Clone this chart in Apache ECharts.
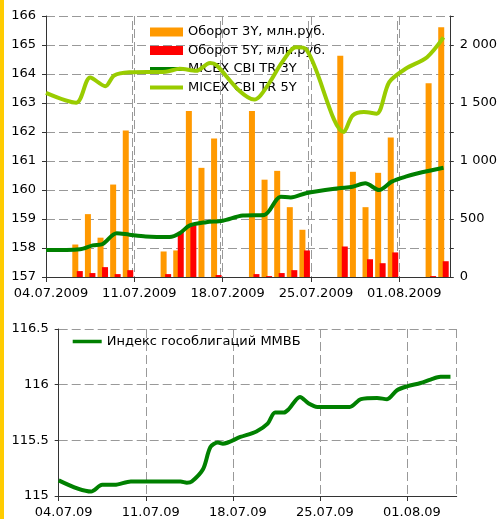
<!DOCTYPE html>
<html>
<head>
<meta charset="utf-8">
<script src="https://cdn.jsdelivr.net/npm/echarts@6/dist/echarts.min.js"></script>
<style>
  html, body { margin: 0; padding: 0; background: #fff; }
  #chart { width: 500px; height: 519px; }
</style>
</head>
<body>
<div id="chart"></div>
<script>
// days are counted from 04.07.2009
const tradeDays = [2, 3, 4, 5, 6, 9, 10, 11, 12, 13, 16, 17, 18, 19, 20, 23, 24, 25, 26, 27, 30, 31];
const turnover3Y = [280, 542, 339, 797, 1263, 220, 229, 1432, 941, 1195, 1432, 839, 915, 602, 407, 1907, 907, 602, 898, 1203, 1670, 2153];
const turnover5Y = [51, 34, 85, 25, 59, 25, 390, 449, 0, 17, 25, 8, 34, 59, 229, 263, 0, 153, 119, 212, 8, 136];

const cbi3Days = [0, 2.7, 3.7, 4.5, 5.6, 6.6, 7.9, 9.8, 10.6, 11.4, 12.7, 14, 15.6, 17.3, 18.6, 19.4, 20.6, 23.2, 24.3, 25.3, 26.4, 27.4, 28.5, 29.8, 31.5];
const cbi3 = [157.93, 157.96, 158.09, 158.14, 158.51, 158.46, 158.40, 158.38, 158.51, 158.78, 158.89, 158.94, 159.12, 159.14, 159.77, 159.74, 159.89, 160.06, 160.11, 160.23, 160.0, 160.29, 160.46, 160.61, 160.77];

const cbi5Days = [0, 2.4, 3.5, 4.7, 5.4, 6.6, 9.5, 10.6, 11.9, 13, 13.5, 15.3, 16.5, 17, 17.9, 18.7, 19.8, 20.6, 23.6, 24.3, 25.2, 26.2, 27.2, 28.5, 30.2, 31.5];
const cbi5 = [163.35, 163.01, 163.88, 163.58, 163.95, 164.06, 164.08, 164.18, 164.11, 164.38, 164.31, 163.43, 163.12, 163.26, 163.83, 164.4, 164.92, 164.86, 162.0, 162.57, 162.69, 162.63, 163.72, 164.18, 164.58, 165.26];

const mmvbDays = [0, 2.6, 3.5, 4.5, 5.8, 9.8, 10.3, 10.7, 11.6, 12.2, 12.8, 13.2, 14.6, 15.9, 16.8, 17.4, 18.1, 18.5, 19.4, 20.1, 20.8, 23.4, 24.3, 25.6, 26.4, 27.2, 28, 29.1, 29.9, 30.7, 31.5];
const mmvb = [115.14, 115.04, 115.10, 115.10, 115.13, 115.13, 115.12, 115.13, 115.24, 115.44, 115.48, 115.47, 115.53, 115.58, 115.65, 115.75, 115.75, 115.78, 115.89, 115.83, 115.80, 115.80, 115.87, 115.88, 115.87, 115.95, 115.985, 116.015, 116.045, 116.07, 116.07];

const weekDays = [7, 14, 21, 28];
const topTickLabels = ['04.07.2009', '11.07.2009', '18.07.2009', '25.07.2009', '01.08.2009'];
const bottomTickLabels = ['04.07.09', '11.07.09', '18.07.09', '25.07.09', '01.08.09'];

const FONT = 'DejaVu Sans';
const pairs = (xs, ys) => xs.map((x, i) => [x, ys[i]]);
const thousands = v => String(v).replace(/\B(?=(\d{3})+(?!\d))/g, ' ');
const LINE_ICON = 'path://M0,0h33v4h-33z';

const gridDash = { color: '#999', width: 1, type: [9, 4] };
const axisLine = { show: true, lineStyle: { color: '#333', width: 1 } };

function dateAxis(gridIndex, labels) {
  return {
    type: 'value',
    gridIndex: gridIndex,
    min: 0,
    max: 32,
    interval: 7,
    axisLine: axisLine,
    axisTick: { show: true, length: 5, lineStyle: { color: '#333' } },
    axisLabel: {
      color: '#000',
      fontFamily: FONT,
      fontSize: 13,
      margin: 10,
      padding: [0, 0, 0, 10],
      showMaxLabel: false,
      formatter: v => labels[Math.round(v / 7)] || '',
    },
    splitLine: { show: true, lineStyle: gridDash },
  };
}

const chart = echarts.init(document.getElementById('chart'), null, { renderer: 'canvas' });

const option = {
  animation: false,
  textStyle: { fontFamily: FONT },
  graphic: [
    { type: 'rect', shape: { x: 0, y: 0, width: 4, height: 519 }, style: { fill: '#ffcc00' } },
  ],
  grid: [
    { left: 46, top: 16, width: 405.7, height: 261 },
    { left: 58.7, top: 329, width: 398, height: 167 },
  ],
  legend: [
    {
      orient: 'vertical',
      left: 150,
      top: 25.5,
      padding: 0,
      itemWidth: 33,
      itemHeight: 9,
      itemGap: 5.5,
      textStyle: { color: '#000', fontSize: 13, fontFamily: FONT },
      data: [
        { name: 'Оборот 3Y, млн.руб.', icon: 'rect' },
        { name: 'Оборот 5Y, млн.руб.', icon: 'rect' },
        { name: 'MICEX CBI TR 3Y', icon: LINE_ICON },
        { name: 'MICEX CBI TR 5Y', icon: LINE_ICON },
      ],
    },
    {
      orient: 'vertical',
      left: 72.7,
      top: 335,
      padding: 0,
      itemWidth: 29,
      itemHeight: 9,
      textStyle: { color: '#000', fontSize: 13, fontFamily: FONT },
      data: [{ name: 'Индекс гособлигаций ММВБ', icon: LINE_ICON }],
    },
  ],
  xAxis: [dateAxis(0, topTickLabels), dateAxis(1, bottomTickLabels)],
  yAxis: [
    {
      type: 'value', gridIndex: 0, position: 'left',
      min: 157, max: 166, interval: 1,
      axisLine: axisLine,
      axisTick: { show: true, length: 4, lineStyle: { color: '#333' } },
      axisLabel: { color: '#000', fontSize: 13, fontFamily: FONT, margin: 10 },
      splitLine: { show: true, lineStyle: gridDash },
    },
    {
      type: 'value', gridIndex: 0, position: 'right',
      min: 0, max: 2250, interval: 250,
      axisLine: axisLine,
      axisTick: { show: true, length: 4, lineStyle: { color: '#333' } },
      axisLabel: {
        color: '#000', fontSize: 13, fontFamily: FONT, margin: 10,
        formatter: v => (v % 500 === 0 ? thousands(v) : ''),
      },
      splitLine: { show: false },
    },
    {
      type: 'value', gridIndex: 1, position: 'left',
      min: 115, max: 116.5, interval: 0.5,
      axisLine: axisLine,
      axisTick: { show: true, length: 4, lineStyle: { color: '#333' } },
      axisLabel: { color: '#000', fontSize: 13, fontFamily: FONT, margin: 10 },
      splitLine: { show: true, lineStyle: gridDash },
    },
  ],
  series: [
    {
      name: 'Оборот 3Y, млн.руб.',
      type: 'bar',
      xAxisIndex: 0, yAxisIndex: 1,
      barWidth: 6,
      barGap: '-25%',
      itemStyle: { color: '#ff9900' },
      data: pairs(tradeDays.map(d => d + 0.5), turnover3Y),
      // weekly vertical grid lines of the upper chart
      markLine: {
        silent: true,
        symbol: 'none',
        z: 1,
        label: { show: false },
        lineStyle: gridDash,
        data: weekDays.map(d => ({ xAxis: d })),
      },
    },
    {
      name: 'Оборот 5Y, млн.руб.',
      type: 'bar',
      xAxisIndex: 0, yAxisIndex: 1,
      barWidth: 6,
      itemStyle: { color: '#ff0000' },
      data: pairs(tradeDays.map(d => d + 0.5), turnover5Y),
    },
    {
      name: 'MICEX CBI TR 3Y',
      type: 'line',
      xAxisIndex: 0, yAxisIndex: 0,
      symbol: 'none',
      smooth: 0.3,
      z: 5,
      itemStyle: { color: '#008000' },
      lineStyle: { color: '#008000', width: 4 },
      data: pairs(cbi3Days, cbi3),
    },
    {
      name: 'MICEX CBI TR 5Y',
      type: 'line',
      xAxisIndex: 0, yAxisIndex: 0,
      symbol: 'none',
      smooth: 0.3,
      z: 5,
      itemStyle: { color: '#99cc00' },
      lineStyle: { color: '#99cc00', width: 4 },
      data: pairs(cbi5Days, cbi5),
    },
    {
      name: 'Индекс гособлигаций ММВБ',
      type: 'line',
      xAxisIndex: 1, yAxisIndex: 2,
      symbol: 'none',
      smooth: 0.3,
      itemStyle: { color: '#008000' },
      lineStyle: { color: '#008000', width: 4 },
      data: pairs(mmvbDays, mmvb),
    },
  ],
};

chart.setOption(option);
</script>
</body>
</html>
